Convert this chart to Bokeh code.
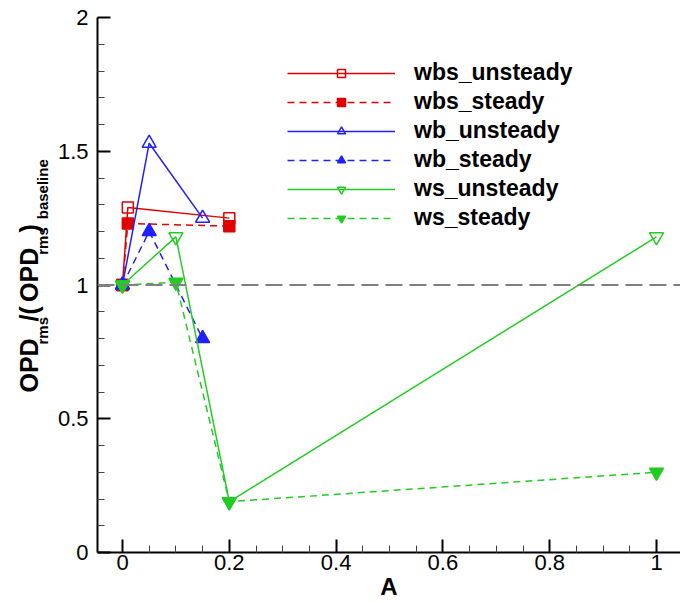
from bokeh.plotting import figure
from bokeh.layouts import row
from bokeh.models import Span, Legend, LegendItem, FixedTicker, Range1d
from bokeh.core.properties import value
from bokeh.embed import file_html
from bokeh.resources import INLINE

# ---- data ----
A_wbs = [0.0, 0.01, 0.2]
wbs_unsteady = [1.0, 1.29, 1.25]
wbs_steady = [1.0, 1.23, 1.22]

A_wb = [0.0, 0.05, 0.15]
wb_unsteady = [1.0, 1.53, 1.25]
wb_steady = [1.0, 1.20, 0.80]

A_ws = [0.0, 0.1, 0.2, 1.0]
ws_unsteady = [1.0, 1.18, 0.19, 1.18]
ws_steady = [1.0, 1.01, 0.19, 0.30]

baseline_level = 1.0

x_ticks = [0, 0.2, 0.4, 0.6, 0.8, 1.0]
x_tick_labels = ["0", "0.2", "0.4", "0.6", "0.8", "1"]
x_minor = [0.05, 0.1, 0.15, 0.25, 0.3, 0.35, 0.45, 0.5, 0.55, 0.65, 0.7, 0.75,
           0.85, 0.9, 0.95]
y_ticks = [0, 0.5, 1.0, 1.5, 2.0]
y_tick_labels = ["0", "0.5", "1", "1.5", "2"]
y_minor = [0.1, 0.2, 0.3, 0.4, 0.6, 0.7, 0.8, 0.9, 1.1, 1.2, 1.3, 1.4, 1.6, 1.7,
           1.8, 1.9]

x_title = "A"
# y title pieces: (text, is_subscript)
y_title = [("OPD", False), ("rms", True), ("/(", False), ("OPD", False),
           ("rms", True), (")", False), ("baseline", True)]

RED = "#e00000"
BLUE = "#2020ff"
GREEN = "#22cc22"
FONT = "Liberation Sans"

# ---- layout geometry (pixels) ----
LW = 53                      # width of the strip holding the y title
FL, FT, FW = 97, 17, 583     # frame left / top / width in the page
X0PX, PXU = 122, 534.0       # page pixel of A=0, pixels per unit of A
x_start = (FL - X0PX) / PXU
x_end = x_start + FW / PXU

p = figure(width=680 - LW, height=602,
           x_range=Range1d(x_start, x_end), y_range=Range1d(0, 2),
           output_backend="svg", toolbar_location=None,
           min_border_left=FL - LW, min_border_top=FT, min_border_right=0,
           min_border_bottom=0)
p.outline_line_color = None
p.xgrid.visible = False
p.ygrid.visible = False

for ax, ticks, minor, labels in ((p.xaxis[0], x_ticks, x_minor, x_tick_labels),
                                 (p.yaxis[0], y_ticks, y_minor, y_tick_labels)):
    ax.ticker = FixedTicker(ticks=ticks, minor_ticks=minor)
    ax.major_label_overrides = {t: l for t, l in zip(ticks, labels)}
    ax.axis_line_width = 2
    ax.axis_line_color = "black"
    ax.major_tick_line_width = 2
    ax.major_tick_line_color = "black"
    ax.minor_tick_line_width = 1
    ax.minor_tick_line_color = "#444444"
    ax.major_tick_in = 13
    ax.major_tick_out = 0
    ax.minor_tick_in = 7
    ax.minor_tick_out = 0
    ax.major_label_text_font = FONT
    ax.major_label_text_font_size = "22px"
    ax.major_label_text_color = "black"

p.xaxis.major_label_standoff = 2
p.yaxis.major_label_standoff = 9
p.xaxis.axis_label = x_title
p.xaxis.axis_label_standoff = 0
p.xaxis.axis_label_text_font = FONT
p.xaxis.axis_label_text_font_style = "bold"
p.xaxis.axis_label_text_font_size = "24px"
p.xaxis.axis_label_text_color = "black"

p.add_layout(Span(location=baseline_level, dimension="width", line_color="#808080",
                  line_width=2, line_dash="17 7"))

series = [
    ("wbs_unsteady", A_wbs, wbs_unsteady, RED, "solid", "square", False, 11),
    ("wbs_steady", A_wbs, wbs_steady, RED, "7 5", "square", True, 11),
    ("wb_unsteady", A_wb, wb_unsteady, BLUE, "solid", "triangle", False, 14),
    ("wb_steady", A_wb, wb_steady, BLUE, "7 5", "triangle", True, 14),
    ("ws_unsteady", A_ws, ws_unsteady, GREEN, "solid", "inverted_triangle", False, 14),
    ("ws_steady", A_ws, ws_steady, GREEN, "7 5", "inverted_triangle", True, 14),
]

items = []
for name, xs, ys, col, dash, marker, filled, sz in series:
    lr = p.line(xs, ys, line_color=col, line_width=1.5, line_dash=dash)
    sr = p.scatter(xs, ys, marker=marker, size=sz, line_color=col, line_width=1.5,
                   fill_color=col if filled else None)
    items.append(LegendItem(label=name, renderers=[lr, sr]))

legend = Legend(items=items, location=(190, 321), orientation="vertical",
                glyph_width=108, glyph_height=20, label_height=20, label_standoff=19,
                spacing=2, padding=0, margin=0, border_line_color=None,
                background_fill_alpha=0,
                label_text_font=FONT, label_text_font_style="bold",
                label_text_font_size="23px", label_text_color="black")
p.add_layout(legend)

# ---- strip with the y title (rotated, with subscripts) ----
lf = figure(width=LW, height=602, x_range=Range1d(0, LW), y_range=Range1d(0, 602),
            output_backend="svg", toolbar_location=None,
            x_axis_location=None, y_axis_location=None, min_border=0)
lf.outline_line_color = None
lf.xgrid.visible = False
lf.ygrid.visible = False

starts = [422, 368, 342, 320, 267, 242, 227]   # page pixel where each piece begins
for (txt, sub), s in zip(y_title, starts):
    lf.text(x=[42 if sub else 28], y=[602 - s], text=[txt], angle=1.5707963267948966,
            text_align="left", text_baseline="alphabetic",
            text_font=value(FONT), text_font_style="bold",
            text_font_size="15px" if sub else "25px", text_color="black")

layout = row(lf, p, spacing=0)
open("out.html", "w").write(file_html(layout, INLINE))
